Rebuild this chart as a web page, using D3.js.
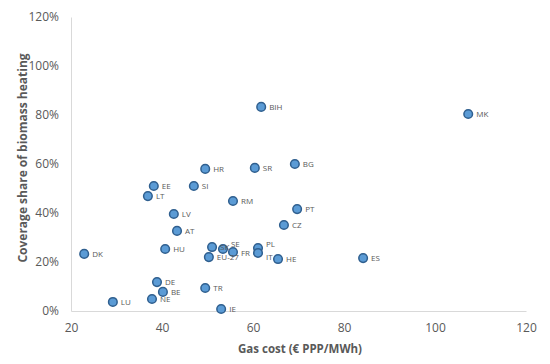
<!DOCTYPE html>
<html>
<head>
<meta charset="utf-8">
<script src="https://cdn.jsdelivr.net/npm/d3@7"></script>
<style>
  body { margin: 0; background: #fff; }
  text { font-family: "Open Sans", "Liberation Sans", sans-serif; }
</style>
</head>
<body>
<div id="chart"></div>
<script>
var svgWidth = 550;
var svgHeight = 364;

var margin = { top: 17, right: 24, bottom: 53, left: 71 };
var width = svgWidth - margin.left - margin.right;
var height = svgHeight - margin.top - margin.bottom;

// Data
var countries = ["BIH", "MK", "HR", "SR", "BG", "EE", "SI", "LT", "RM", "PT", "LV", "CZ", "AT", "DK", "HU",
    "SK", "SE", "FR", "EU-27", "PL", "IT", "HE", "ES", "DE", "BE", "NE", "LU", "TR", "IE"];
var gasCost = [61.8, 107.3, 49.5, 60.4, 69.2, 38.2, 47.0, 36.9, 55.6, 69.7, 42.6, 66.8, 43.3, 22.9, 40.7,
    51.0, 53.4, 55.6, 50.3, 61.1, 61.1, 65.5, 84.2, 38.9, 40.2, 37.8, 29.2, 49.5, 53.0];
var coverage = [0.833, 0.804, 0.580, 0.584, 0.600, 0.510, 0.510, 0.469, 0.449, 0.416, 0.396, 0.351, 0.327, 0.233, 0.253,
    0.261, 0.253, 0.241, 0.220, 0.257, 0.237, 0.212, 0.216, 0.118, 0.078, 0.049, 0.037, 0.094, 0.008];
var xTicks = [20, 40, 60, 80, 100, 120];
var yTicks = [0, 0.2, 0.4, 0.6, 0.8, 1.0, 1.2];

// small nudges for crowded labels
var labelDy = { "PL": -1, "IT": 7, "SE": -2, "FR": 4 };

var data = countries.map(function(c, i) {
    return { name: c, x: gasCost[i], y: coverage[i] };
});

var svg = d3.select("#chart")
    .append("svg")
    .attr("width", svgWidth)
    .attr("height", svgHeight);

var chartGroup = svg.append("g")
    .attr("transform", `translate(${margin.left}, ${margin.top})`);

var xScale = d3.scaleLinear().domain([20, 120]).range([0, width]);
var yScale = d3.scaleLinear().domain([0, 1.2]).range([height, 0]);

var bottomAxis = d3.axisBottom(xScale).tickValues(xTicks).tickSize(0).tickPadding(12);
var leftAxis = d3.axisLeft(yScale).tickValues(yTicks).tickSize(0).tickPadding(12)
    .tickFormat(d3.format(".0%"));

var xAxis = chartGroup.append("g")
    .attr("transform", `translate(0, ${height})`)
    .call(bottomAxis);

var yAxis = chartGroup.append("g")
    .call(leftAxis);

[xAxis, yAxis].forEach(function(ax) {
    ax.select(".domain").attr("stroke", "#d9d9d9").attr("stroke-width", 1);
    ax.selectAll("text")
        .attr("fill", "#595959")
        .style("font-size", "12px");
});

// Points
chartGroup.selectAll("circle")
    .data(data)
    .enter()
    .append("circle")
    .attr("cx", d => xScale(d.x))
    .attr("cy", d => yScale(d.y))
    .attr("r", 4.3)
    .attr("fill", "#5b9bd5")
    .attr("stroke", "#2f5f8f")
    .attr("stroke-width", 1.5);

// Labels
chartGroup.selectAll(".lbl")
    .data(data)
    .enter()
    .append("text")
    .attr("class", "lbl")
    .attr("x", d => xScale(d.x) + 8)
    .attr("y", d => yScale(d.y) + (labelDy[d.name] !== undefined ? labelDy[d.name] : 3))
    .attr("fill", "#595959")
    .style("font-size", "8px")
    .text(d => d.name);

// Axis titles
svg.append("text")
    .attr("x", 300)
    .attr("y", 353)
    .attr("text-anchor", "middle")
    .attr("fill", "#595959")
    .style("font-size", "11.5px")
    .style("font-weight", "bold")
    .text("Gas cost (€ PPP/MWh)");

svg.append("text")
    .attr("transform", "rotate(-90)")
    .attr("x", -158)
    .attr("y", 27)
    .attr("text-anchor", "middle")
    .attr("fill", "#595959")
    .style("font-size", "12px")
    .style("font-weight", "bold")
    .text("Coverage share of biomass heating");
</script>
</body>
</html>
